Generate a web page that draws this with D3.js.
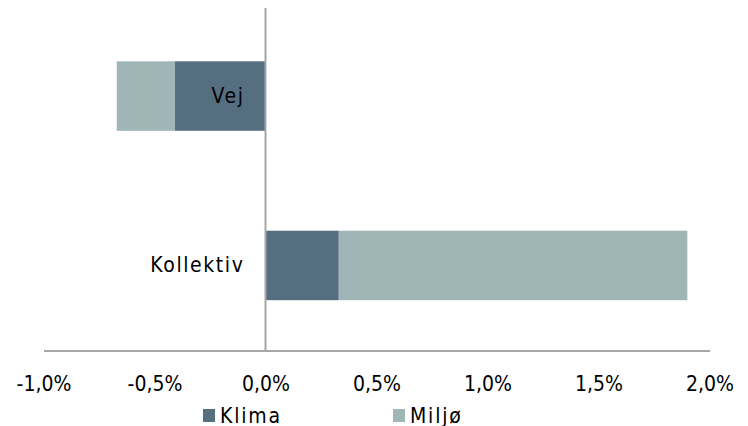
<!DOCTYPE html>
<html>
<head>
<meta charset="utf-8">
<script src="https://cdn.jsdelivr.net/npm/d3@7"></script>
<style>
  html, body { margin: 0; padding: 0; background: #fff; }
  svg text { font-family: "DejaVu Sans Condensed", "DejaVu Sans", sans-serif; fill: #000; }
</style>
</head>
<body>
<svg id="chart" width="748" height="426"></svg>
<script>
// Contributions by category (percent), split into Klima and Miljø
const categories = ["Vej", "Kollektiv"];
const series = ["Klima", "Miljø"];
const klima = [-0.41, 0.33];
const miljo = [-0.26, 1.57];
const tickValues = [-1.0, -0.5, 0.0, 0.5, 1.0, 1.5, 2.0];
const colors = { "Klima": "#566f80", "Miljø": "#9fb5b6" };

const FONT = "'DejaVu Sans Condensed', 'DejaVu Sans', sans-serif";
const svg = d3.select("#chart");
const x = d3.scaleLinear().domain([-1, 2]).range([43.5, 709.5]);
const y = d3.scaleBand().domain(categories).range([10.5, 351]).paddingInner(0.59).paddingOuter(0.3);

// stacked segments: each series starts where the previous one ended
const rows = categories.map((c, i) => ({ cat: c, Klima: klima[i], "Miljø": miljo[i] }));
const segs = [];
rows.forEach(r => {
  let acc = 0;
  series.forEach(s => {
    segs.push({ cat: r.cat, key: s, x0: acc, x1: acc + r[s] });
    acc += r[s];
  });
});

svg.append("g").selectAll("rect").data(segs).join("rect")
  .attr("x", d => x(Math.min(d.x0, d.x1)))
  .attr("width", d => Math.abs(x(d.x1) - x(d.x0)))
  .attr("y", d => y(d.cat))
  .attr("height", y.bandwidth())
  .attr("fill", d => colors[d.key]);

// horizontal value axis
const xAxis = d3.axisBottom(x).tickValues(tickValues).tickSize(0).tickPadding(26)
  .tickFormat(d => d3.format(".1f")(d).replace(".", ",").replace("−", "-") + "%");
const gx = svg.append("g").attr("transform", "translate(0,350.5)").call(xAxis);
gx.select(".domain").attr("stroke", "#a6a6a6").attr("stroke-width", 2);
gx.selectAll("text").attr("font-size", 21).style("font-family", FONT);

// vertical category axis at zero
const gy = svg.append("g").attr("transform", `translate(${x(0)},0)`)
  .call(d3.axisLeft(y).tickSize(0).tickPadding(21));
gy.select(".domain").attr("d", `M0,8V350`).attr("stroke", "#a6a6a6").attr("stroke-width", 2);
gy.selectAll("text").attr("font-size", 21).attr("letter-spacing", 1.6).style("font-family", FONT);

// legend
const legendItems = [{ key: "Klima", x: 203 }, { key: "Miljø", x: 393 }];
const lg = svg.append("g").selectAll("g").data(legendItems).join("g")
  .attr("transform", d => `translate(${d.x},409)`);
lg.append("rect").attr("width", 12).attr("height", 13).attr("fill", d => colors[d.key]);
lg.append("text").attr("x", 17).attr("y", 13.5).attr("font-size", 21)
  .attr("letter-spacing", 1.8).style("font-family", FONT).text(d => d.key);
</script>
</body>
</html>
